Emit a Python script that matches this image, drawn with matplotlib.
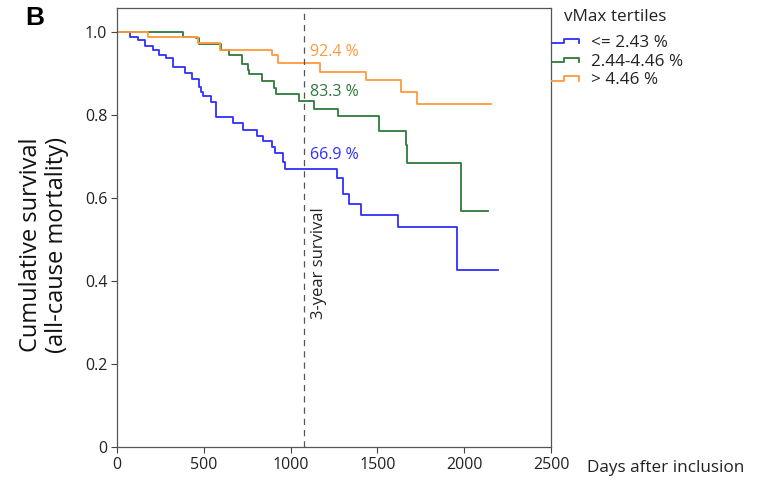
import numpy as np
import matplotlib
matplotlib.use("Agg")
import matplotlib.pyplot as plt
from matplotlib.legend_handler import HandlerBase
from matplotlib.lines import Line2D

plt.rcParams['font.family'] = ['Open Sans', 'DejaVu Sans']

# Kaplan-Meier steps (days, survival)
t_low = [0, 75, 122, 160, 205, 243, 285, 323, 390, 432, 472, 486, 495, 539, 571,
         669, 726, 806, 841, 895, 908, 956, 970, 1268, 1304, 1338, 1405, 1616, 1960, 2197]
s_low = [1.0, 0.988, 0.980, 0.965, 0.955, 0.943, 0.937, 0.915, 0.901, 0.885, 0.867,
         0.855, 0.845, 0.831, 0.795, 0.779, 0.763, 0.750, 0.736, 0.723, 0.708, 0.687,
         0.669, 0.648, 0.608, 0.584, 0.559, 0.530, 0.426, 0.426]

t_mid = [0, 379, 455, 472, 598, 645, 722, 756, 762, 835, 904, 916, 1047, 1135, 1275,
         1509, 1665, 1673, 1981, 2139]
s_mid = [1.0, 0.987, 0.984, 0.970, 0.955, 0.943, 0.923, 0.907, 0.898, 0.881, 0.865,
         0.850, 0.833, 0.814, 0.797, 0.762, 0.727, 0.684, 0.568, 0.568]

t_high = [0, 181, 468, 594, 891, 929, 1169, 1433, 1635, 1726, 2153]
s_high = [1.0, 0.987, 0.972, 0.957, 0.943, 0.924, 0.903, 0.883, 0.854, 0.825, 0.825]

labels = ['<= 2.43 %', '2.44-4.46 %', '> 4.46 %']
colors = ['#2f2fff', '#2e7a3c', '#ff9a3c']
surv_3y = ['66.9 %', '83.3 %', '92.4 %']
surv_3y_y = [0.703, 0.854, 0.951]
day_3y = 1080

xticks = [0, 500, 1000, 1500, 2000, 2500]
yticks = [0, 0.2, 0.4, 0.6, 0.8, 1.0]
yticklabels = ['0', '0.2', '0.4', '0.6', '0.8', '1.0']


class StepHandler(HandlerBase):
    def create_artists(self, legend, orig_handle, xdescent, ydescent, width, height, fontsize, trans):
        xs = np.array([0, 0.45, 0.45, 1.0, 1.0]) * width - xdescent
        ys = np.array([0.3, 0.3, 0.65, 0.65, 0.3]) * height - ydescent
        ln = Line2D(xs, ys, color=orig_handle.get_color(), lw=orig_handle.get_linewidth())
        ln.set_transform(trans)
        return [ln]


W, H = 759, 479
fig = plt.figure(figsize=(W / 100, H / 100), dpi=100)
ax = fig.add_axes([117 / W, (H - 447) / H, (551 - 117) / W, (447 - 8) / H])

handles = []
for t, s, c, lab in zip([t_low, t_mid, t_high], [s_low, s_mid, s_high], colors, labels):
    h, = ax.step(t, s, where='post', color=c, lw=1.3, label=lab)
    handles.append(h)

ax.axvline(day_3y, color='#555555', lw=0.9, ls=(0, (5, 4)))
ax.text(day_3y + 35, 0.443, '3-year survival', rotation=90, ha='left', va='center',
        fontsize=12, color='#222222')

for txt, y, c in zip(surv_3y, surv_3y_y, colors):
    ax.text(day_3y + 30, y, txt, color=c, fontsize=11.5, ha='left', va='center')

ax.set_xlim(0, 2500)
ax.set_ylim(0, 1.057)
ax.set_xticks(xticks)
ax.set_yticks(yticks)
ax.set_yticklabels(yticklabels)
ax.tick_params(direction='out', length=4, width=0.8, color='#444444',
               labelsize=11.5, labelcolor='#222222', pad=3)
for sp in ax.spines.values():
    sp.set_color('#555555')
    sp.set_linewidth(0.9)

fig.text(44 / W, 1 - 245 / H, 'Cumulative survival\n(all-cause mortality)', rotation=90,
         ha='center', va='center', multialignment='center', fontsize=17,
         color='#111111', linespacing=1.1)
fig.text(587 / W, 1 - 468 / H, 'Days after inclusion', ha='left', va='center',
         fontsize=12.3, color='#222222')
fig.text(25 / W, 1 - 18 / H, 'B', ha='left', va='center', fontsize=19,
         fontweight='bold', family='Liberation Sans')

fig.text(615 / W, 1 - 17 / H, 'vMax tertiles', ha='center', va='center',
         fontsize=12.3, color='#222222')
leg = fig.legend(handles=handles, labels=labels, handler_map={Line2D: StepHandler()},
                 loc='upper left', bbox_to_anchor=(552 / W, 1 - 35 / H), frameon=False,
                 fontsize=12.3, handlelength=1.6, handletextpad=0.7, labelspacing=0.15,
                 borderpad=0, borderaxespad=0)
for txt in leg.get_texts():
    txt.set_color('#222222')

fig.savefig('out.png', dpi=100)
